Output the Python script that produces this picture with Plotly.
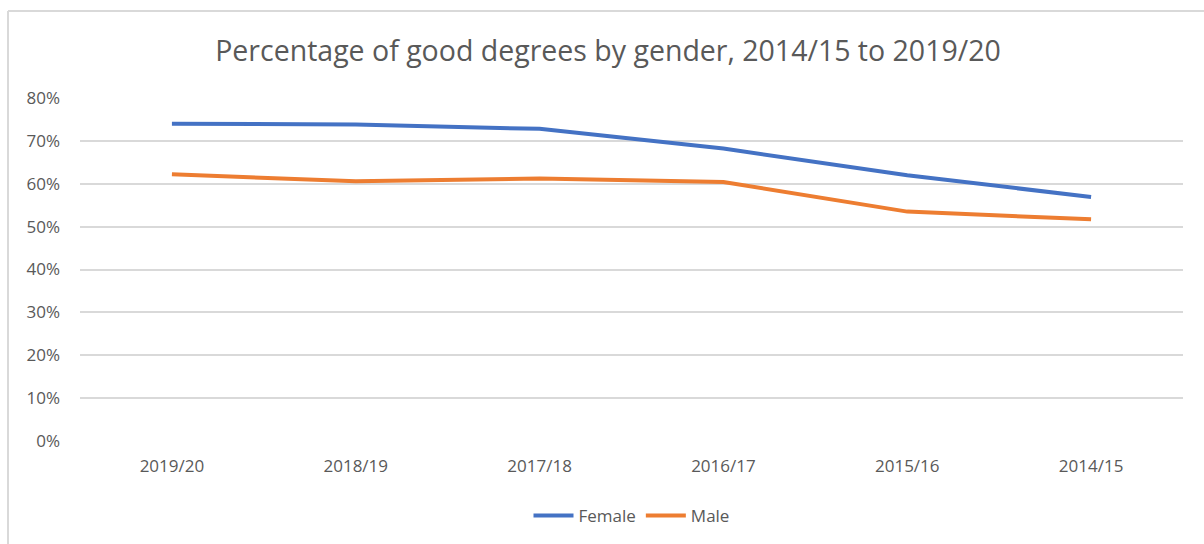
import plotly.graph_objects as go

categories = ["2019/20", "2018/19", "2017/18", "2016/17", "2015/16", "2014/15"]
female = [0.740, 0.738, 0.728, 0.682, 0.620, 0.569]
male = [0.622, 0.606, 0.612, 0.604, 0.535, 0.517]
y_ticks = [0, 0.1, 0.2, 0.3, 0.4, 0.5, 0.6, 0.7, 0.8]

W, H = 1204, 544
L, R, T, B = 80, 21, 98, 103
pw, ph = W - L - R, H - T - B

fig = go.Figure()
fig.add_trace(go.Scatter(x=categories, y=female, name="Female", mode="lines",
                         line=dict(color="#4472C4", width=4)))
fig.add_trace(go.Scatter(x=categories, y=male, name="Male", mode="lines",
                         line=dict(color="#ED7D31", width=4)))

font_family = "Open Sans, Noto Sans, sans-serif"
grey = "#595959"

# chart border (left and top edges, like the reference crop)
bx = (8 - L) / pw
by = (H - B - 11) / ph
border = dict(color="#D9D9D9", width=2)
fig.add_shape(type="line", xref="paper", yref="paper", x0=bx, x1=bx, y0=-1, y1=by, line=border)
fig.add_shape(type="line", xref="paper", yref="paper", x0=bx, x1=2, y0=by, y1=by, line=border)

fig.update_layout(
    width=W, height=H,
    margin=dict(l=L, r=R, t=T, b=B, pad=0, autoexpand=False),
    paper_bgcolor="white", plot_bgcolor="white",
    font=dict(family=font_family, color=grey, size=17),
    title=dict(text="Percentage of good degrees by gender, 2014/15 to 2019/20",
               x=0.505, xref="container", xanchor="center",
               y=1 - 51 / H, yref="container", yanchor="middle",
               font=dict(size=28.5, color=grey, family=font_family)),
    showlegend=True,
    legend=dict(orientation="h", x=0.5, xanchor="center", y=(H - B - 516) / ph, yanchor="middle",
                font=dict(size=17, color=grey), itemwidth=40, tracegroupgap=0),
    xaxis=dict(type="category", showgrid=False, showline=False, zeroline=False, automargin=False,
               ticks="", ticklabelstandoff=13, tickfont=dict(size=17, color=grey),
               range=[-0.5, len(categories) - 0.5]),
    yaxis=dict(range=[0, 0.8], tickvals=y_ticks, tickformat=".0%", showgrid=True, automargin=False,
               gridcolor="#D9D9D9", gridwidth=2, zeroline=False, showline=False,
               ticks="", ticklabelstandoff=19, tickfont=dict(size=17, color=grey)),
)

fig.write_html("out.html", config={"displayModeBar": False},
               post_script="document.body.style.margin='0';")
